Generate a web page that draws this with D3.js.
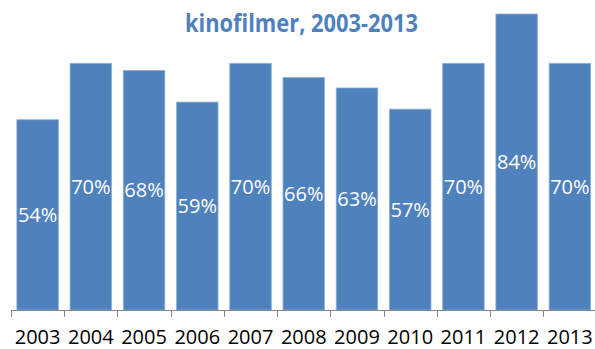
<!DOCTYPE html>
<html>
<head>
<meta charset="utf-8">
<script src="https://cdn.jsdelivr.net/npm/d3@7"></script>
<style>
html,body{margin:0;padding:0;background:#fff;}
svg{display:block;}
</style>
</head>
<body>
<svg id="chart" width="595" height="349"></svg>
<script>
const years = ["2003","2004","2005","2006","2007","2008","2009","2010","2011","2012","2013"];
const values = [54,70,68,59,70,66,63,57,70,84,70];
const valueLabels = ["54%","70%","68%","59%","70%","66%","63%","57%","70%","84%","70%"];
const titleLine = "kinofilmer, 2003-2013";

const svg = d3.select("#chart");
const x = d3.scaleBand().domain(years).range([11, 596.5]).paddingInner(0.22).paddingOuter(0.11);
const y = d3.scaleLinear().domain([0, 84]).range([310, 14]);

svg.append("text")
  .attr("x", 301.5).attr("y", 32)
  .attr("text-anchor", "middle")
  .attr("font-family", "'Open Sans', sans-serif")
  .attr("font-weight", "bold")
  .attr("font-size", 25)
  .attr("fill", "#4F81BD")
  .attr("textLength", 233)
  .attr("lengthAdjust", "spacingAndGlyphs")
  .text(titleLine);

svg.append("g").selectAll("rect").data(values).join("rect")
  .attr("x", (d,i) => x(years[i]))
  .attr("y", d => y(d))
  .attr("width", x.bandwidth())
  .attr("height", d => y(0) - y(d))
  .attr("fill", "#4F81BD")
  .attr("stroke", "#8FB0D8")
  .attr("stroke-width", 0.8);

svg.append("g").selectAll("text").data(values).join("text")
  .attr("x", (d,i) => x(years[i]) + x.bandwidth()/2)
  .attr("y", d => (y(d) + y(0))/2)
  .attr("dy", "0.36em")
  .attr("text-anchor", "middle")
  .attr("font-family", "'Open Sans', sans-serif")
  .attr("font-size", 20)
  .attr("fill", "#fff")
  .text((d,i) => valueLabels[i]);

const axis = svg.append("g").attr("transform", "translate(0,310)");
axis.append("line").attr("x1", 11).attr("x2", 596.5).attr("y1", 0.5).attr("y2", 0.5)
  .attr("stroke", "#868686").attr("stroke-width", 1);
const step = x.step();
const bounds = years.map(yr => x(yr) - x.paddingInner()*step/2).concat([596.5]);
axis.selectAll("line.tick").data(bounds).join("line")
  .attr("class","tick")
  .attr("x1", d => Math.round(d)+0.5).attr("x2", d => Math.round(d)+0.5)
  .attr("y1", 0).attr("y2", 7)
  .attr("stroke", "#868686").attr("stroke-width", 1);
axis.selectAll("text").data(years).join("text")
  .attr("x", d => x(d) + x.bandwidth()/2)
  .attr("y", 33.5)
  .attr("text-anchor", "middle")
  .attr("font-family", "'Open Sans', sans-serif")
  .attr("font-size", 20)
  .attr("fill", "#000")
  .text(d => d);
</script>
</body>
</html>
